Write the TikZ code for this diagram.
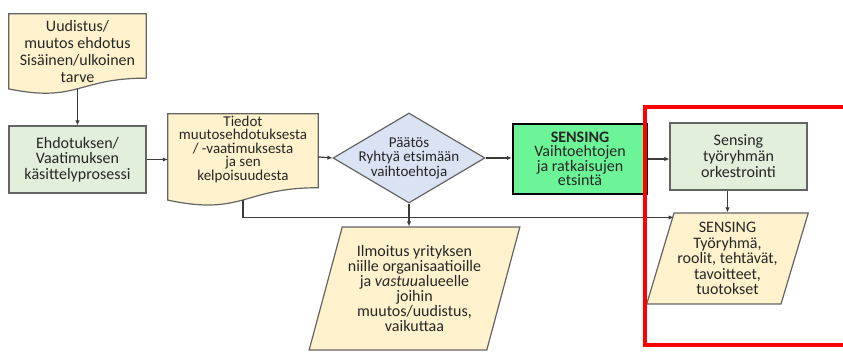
\documentclass[tikz,border=0pt]{standalone}
\usepackage{fontspec}
\setmainfont{Carlito}
\usetikzlibrary{shapes.geometric,arrows.meta,backgrounds,calc}
\definecolor{noteyellow}{RGB}{255,242,204}
\definecolor{procgreen}{RGB}{226,239,218}
\definecolor{sensegreen}{RGB}{108,245,150}
\definecolor{decideblue}{RGB}{218,227,243}
\definecolor{edgegray}{RGB}{100,100,100}
\definecolor{linegray}{RGB}{60,60,60}

% wavy bottom of a document node
\newcommand{\docwave}[1]{%
  \path[docbox] let \p1=(#1.north west), \p2=(#1.south east), \n1={\y1-\y2} in
    (\p1) -- (\x2,\y1) -- (\x2,{\y1-0.858*\n1})
    .. controls ({(\x1+\x2)/2},{\y1-0.858*\n1}) and ({(\x1+\x2)/2},{\y1-1.188*\n1}) .. (\x1,{\y1-1.002*\n1}) -- cycle;}

\begin{document}
\begin{tikzpicture}[x=1pt, y=-1pt,
    every node/.style={align=center, text=black!85},
    docbox/.style={fill=noteyellow, draw=edgegray, line width=1.2pt},
    note/.style={inner sep=0pt, minimum width=#1},
    procbox/.style={draw=edgegray, fill=procgreen, line width=1.2pt, minimum width=137pt, minimum height=67pt},
    sensebox/.style={draw=black, fill=sensegreen, line width=2.4pt, minimum width=134pt, minimum height=70pt},
    decision/.style={diamond, draw=edgegray, fill=decideblue, line width=1.2pt, inner sep=-8pt, aspect=1.69, minimum width=152pt, minimum height=90pt},
    datapar/.style={trapezium, trapezium stretches=true, trapezium left angle=71, trapezium right angle=109, draw=edgegray, fill=noteyellow, line width=1.2pt},
    arr/.style={-{Latex[length=5pt,width=4.5pt]}, draw=linegray, line width=1.2pt}]
    \useasboundingbox (0,0) rectangle (843,352);

    \node[note=137pt, minimum height=74.6pt, font=\fontsize{16}{17}\selectfont] (idea) at (77.5,51.3) {Uudistus/\\muutos ehdotus\\Sisäinen/ulkoinen\\tarve};
    \node[procbox, font=\fontsize{16}{15.5}\selectfont] (proc) at (77.5,159.5) {Ehdotuksen/\\Vaatimuksen\\käsittelyprosessi};
    \node[note=150pt, minimum height=85.7pt, font=\fontsize{15}{13.6}\selectfont] (info) at (243,156.9) {Tiedot\\muutosehdotuksesta\\/ -vaatimuksesta\\ja sen\\kelpoisuudesta\\[4pt]};
    \node[decision, font=\fontsize{15}{14.5}\selectfont] (decide) at (409,158) {Päätös\\Ryhtyä etsimään\\vaihtoehtoja};
    \node[sensebox, font=\fontsize{16}{14.5}\selectfont] (sense) at (580,159) {\textbf{SENSING}\\Vaihtoehtojen\\ja ratkaisujen\\etsintä};
    \node[procbox, font=\fontsize{16}{16}\selectfont] (orch) at (738.5,156.5) {Sensing\\työryhmän\\orkestrointi};
    \node[datapar, minimum width=159pt, minimum height=91pt, font=\fontsize{16}{15.5}\selectfont] (team) at (727.5,258.5) {SENSING\\Työryhmä,\\roolit, tehtävät,\\tavoitteet,\\tuotokset};
    \node[datapar, minimum width=211pt, minimum height=123pt, font=\fontsize{16}{15}\selectfont] (notify) at (414.5,288.5) {Ilmoitus yrityksen\\niille organisaatioille\\ja \textit{vastuu}alueelle\\joihin\\muutos/uudistus,\\vaikuttaa};

    \begin{scope}[on background layer]
        \docwave{idea}
        \docwave{info}
    \end{scope}

    \draw[arr] (idea.south) -- (proc.north);
    \draw[arr] (proc.east) -- (proc.east -| info.west);
    \draw[arr] (info.east) -- (decide.west);
    \draw[arr] (decide.east) -- (decide.east -| sense.west);
    \draw[arr] (sense.east) -- (sense.east -| orch.west);
    \draw[arr] (orch.south -| team) -- (team.north -| team);
    \draw[arr] (info.south) |- ([yshift=-5pt]team.top left corner);
    \draw[arr] (decide.south) -- (decide.south |- notify.north);

    % highlighted sensing part
    \draw[red, line width=4pt] (850,107) -- (645,107) -- (645,345) -- (850,345);
\end{tikzpicture}
\end{document}
